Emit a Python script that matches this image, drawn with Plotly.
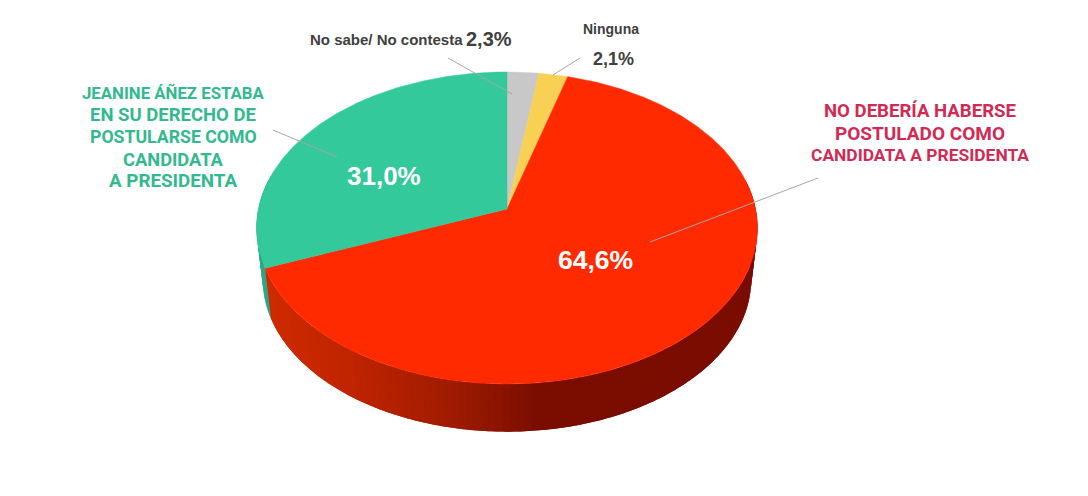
import numpy as np
import plotly.graph_objects as go

# Slices, clockwise from 12 o'clock
categories = ["No sabe/ No contesta", "Ninguna", "No debería haberse postulado", "Jeanine Áñez estaba en su derecho"]
values = [2.3, 2.1, 64.6, 31.0]
top_colors = ["#C8C8C8", "#F8D054", "#FF2A00", "#33C99A"]
side_colors = ["#9a9a9a", "#c0a040", None, "#2BA883"]

green_lines = ["JEANINE ÁÑEZ ESTABA", "EN SU DERECHO DE", "POSTULARSE COMO", "CANDIDATA", "A PRESIDENTA"]
green_sizes = [16.8, 18.5, 17.7, 18.3, 18.8]
red_lines = ["NO DEBERÍA HABERSE", "POSTULADO COMO", "CANDIDATA A PRESIDENTA"]
red_sizes = [18.6, 19, 17.4]

# Pie look: centre, radii, perspective and thickness in page pixels
cx, cy = 507, 209
rx, ry = 248.6, 153.7
persp = 0.1218
depth = 52
shrink = 0.975

# Side wall shading of the red slice, left to right
shade_x = [265, 350, 450, 535, 760]
shade_r = [208, 192, 160, 124, 122]
shade_g = [43, 36, 28, 14, 12]


def project(deg, bottom=False):
    a = np.radians(deg)
    u, v = np.sin(a), -np.cos(a)
    d = 1 - persp * v
    x, y = rx * u / d, ry * v / d
    if bottom:
        return cx + shrink * x, cy + depth + shrink * y
    return cx + x, cy + y


fig = go.Figure()

# Side wall first, so that the top covers it.
# Each strip runs on a bit under the next one, that hides the seams
start = 0
for val, col in zip(values, side_colors):
    end = start + val * 3.6
    edges = np.linspace(start, end, max(2, int((end - start) / 1.5) + 1))
    for a0, a1 in zip(edges[:-1], edges[1:]):
        if -np.cos(np.radians((a0 + a1) / 2)) < -0.2:
            continue
        arc = np.linspace(a0, a1 + 1.5, 5)
        xt, yt = project(arc)
        xb, yb = project(arc[::-1], bottom=True)
        c = col
        if c is None:
            xm = project((a0 + a1) / 2)[0]
            c = "rgb(%d,%d,0)" % (np.interp(xm, shade_x, shade_r), np.interp(xm, shade_x, shade_g))
        fig.add_trace(go.Scatter(x=np.r_[xt, xb, xt[0]], y=np.r_[yt, yb, yt[0]], mode="none", fill="toself",
                                 fillcolor=c, hoverinfo="skip"))
    start = end

# Top face
start = 0
for val, col in zip(values, top_colors):
    end = start + val * 3.6
    arc = np.linspace(start, end, max(4, int(end - start) * 2))
    xt, yt = project(arc)
    fig.add_trace(go.Scatter(x=np.r_[cx, xt, cx], y=np.r_[cy, yt, cy], mode="lines", fill="toself",
                             fillcolor=col, line=dict(color=col, width=0.5), hoverinfo="skip"))
    start = end

# Leader lines
leaders = [((448, 58), (512, 94)), ((580, 58), (553, 75)), ((273, 130), (337, 157)), ((818, 178), (650, 242))]
for p0, p1 in leaders:
    fig.add_trace(go.Scatter(x=[p0[0], p1[0]], y=[p0[1], p1[1]], mode="lines",
                             line=dict(color="#A6A6A6", width=1), hoverinfo="skip"))

FONT = "Liberation Sans"
NARROW = "Roboto"


def label(x, y, text, size, color, family=FONT):
    fig.add_annotation(x=x, y=y, text="<b>%s</b>" % text, showarrow=False, xanchor="center", yanchor="middle",
                       font=dict(family=family, size=size, color=color), xref="x", yref="y")


label(386.5, 39, "No sabe/ No contesta", 15, "#404040")
label(488.5, 39, "2,3%", 20, "#404040")
label(611, 29, "Ninguna", 14, "#404040")
label(613, 59, "2,1%", 18, "#404040")
for i, line in enumerate(green_lines):
    label(173, 92.5 + i * 22.2, line, green_sizes[i], "#33B98F", NARROW)
for i, line in enumerate(red_lines):
    label(920, 111 + i * 22, line, red_sizes[i], "#D02A55", NARROW)
label(384, 176, "31,0%", 26, "white")
label(595, 260, "64,6%", 26.5, "white")

fig.update_layout(width=1088, height=496, margin=dict(l=0, r=0, t=0, b=0), showlegend=False,
                  paper_bgcolor="white", plot_bgcolor="white",
                  xaxis=dict(range=[0, 1088], visible=False, fixedrange=True),
                  yaxis=dict(range=[496, 0], visible=False, fixedrange=True))

fig.write_html("out.html", config=dict(displayModeBar=False),
               post_script="document.body.style.margin='0';document.body.style.overflow='hidden';")
